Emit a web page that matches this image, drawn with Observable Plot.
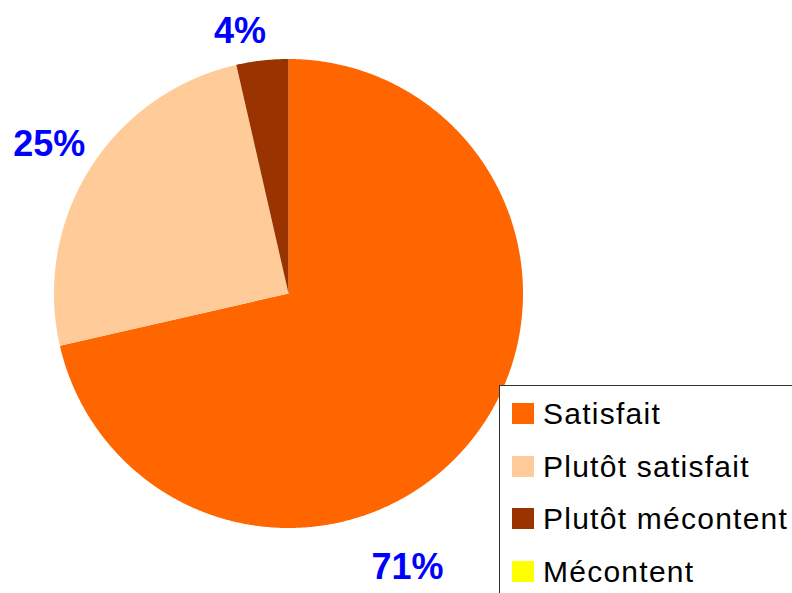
<!DOCTYPE html>
<html>
<head>
<meta charset="utf-8">
<script src="https://cdn.jsdelivr.net/npm/d3@7"></script>
<script src="https://cdn.jsdelivr.net/npm/@observablehq/plot@0.6"></script>
<style>
  html, body { margin: 0; padding: 0; background: #fff; }
  #wrap { position: relative; width: 792px; height: 593px; overflow: hidden; font-family: "Liberation Sans", Arial, sans-serif; }
  #legend { position: absolute; left: 499px; top: 385px; width: 400px; height: 300px; background: #fff; border: 1.5px solid #333; box-sizing: border-box; }
  .item { position: absolute; left: 0; height: 40px; }
  .sw { position: absolute; left: 12px; width: 22px; height: 21px; }
  .lab { position: absolute; left: 43px; font-size: 30px; letter-spacing: 1.25px; color: #000; white-space: nowrap; line-height: 1; }
</style>
</head>
<body>
<div id="wrap"></div>
<script>
// Data
const categories = ["Satisfait", "Plutôt satisfait", "Plutôt mécontent", "Mécontent"];
const counts = [20, 7, 1, 0];
const colors = ["#FF6600", "#FFCC99", "#993300", "#FFFF00"];
const percentLabels = ["71%", "25%", "4%", ""];

const pie = d3.pie().sort(null).value(d => d.value)(
  categories.map((c, i) => ({category: c, value: counts[i], label: percentLabels[i]}))
);

// Build polygons for each non-empty slice (angles clockwise from top)
const polys = [];
pie.forEach(s => {
  if (s.endAngle - s.startAngle <= 0) return;
  const c = s.data.category;
  polys.push({category: c, x: 0, y: 0});
  const n = Math.max(2, Math.ceil((s.endAngle - s.startAngle) / 0.005));
  for (let k = 0; k <= n; k++) {
    const a = s.startAngle + (s.endAngle - s.startAngle) * k / n;
    polys.push({category: c, x: Math.sin(a), y: Math.cos(a)});
  }
  polys.push({category: c, x: 0, y: 0});
});

const labelPts = pie.filter(s => s.endAngle > s.startAngle).map(s => {
  const a = (s.startAngle + s.endAngle) / 2;
  return {label: s.data.label, x: 1.2 * Math.sin(a), y: 1.2 * Math.cos(a), category: s.data.category};
});
const offsets = {"Satisfait": [-101, 99], "Plutôt satisfait": [-1, 1], "Plutôt mécontent": [-17, 18]};

const chart = Plot.plot({
  width: 792,
  height: 593,
  margin: 0,
  x: {domain: [-1, 1], range: [53.5, 522.5], axis: null},
  y: {domain: [-1, 1], range: [527.5, 58.5], axis: null},
  color: {domain: categories, range: colors},
  marks: [
    Plot.line(polys, {x: "x", y: "y", z: "category", fill: "category", stroke: "none", curve: "linear"}),
    ...labelPts.map(p => Plot.text([p], {
      x: "x", y: "y", text: "label",
      dx: offsets[p.category][0], dy: offsets[p.category][1],
      fill: "#0000FF", fontSize: 36, fontWeight: "bold",
      fontFamily: "Liberation Sans, Arial, sans-serif", textAnchor: "middle"
    }))
  ]
});

const wrap = document.getElementById("wrap");
wrap.appendChild(chart);

// Legend
const legend = document.createElement("div");
legend.id = "legend";
categories.forEach((c, i) => {
  const item = document.createElement("div");
  item.className = "item";
  item.style.top = (16 + i * 52.7) + "px";
  const sw = document.createElement("div");
  sw.className = "sw";
  sw.style.background = colors[i];
  sw.style.top = "1px";
  const lab = document.createElement("div");
  lab.className = "lab";
  lab.style.top = "-3px";
  lab.textContent = c;
  item.appendChild(sw);
  item.appendChild(lab);
  legend.appendChild(item);
});
wrap.appendChild(legend);
</script>
</body>
</html>
